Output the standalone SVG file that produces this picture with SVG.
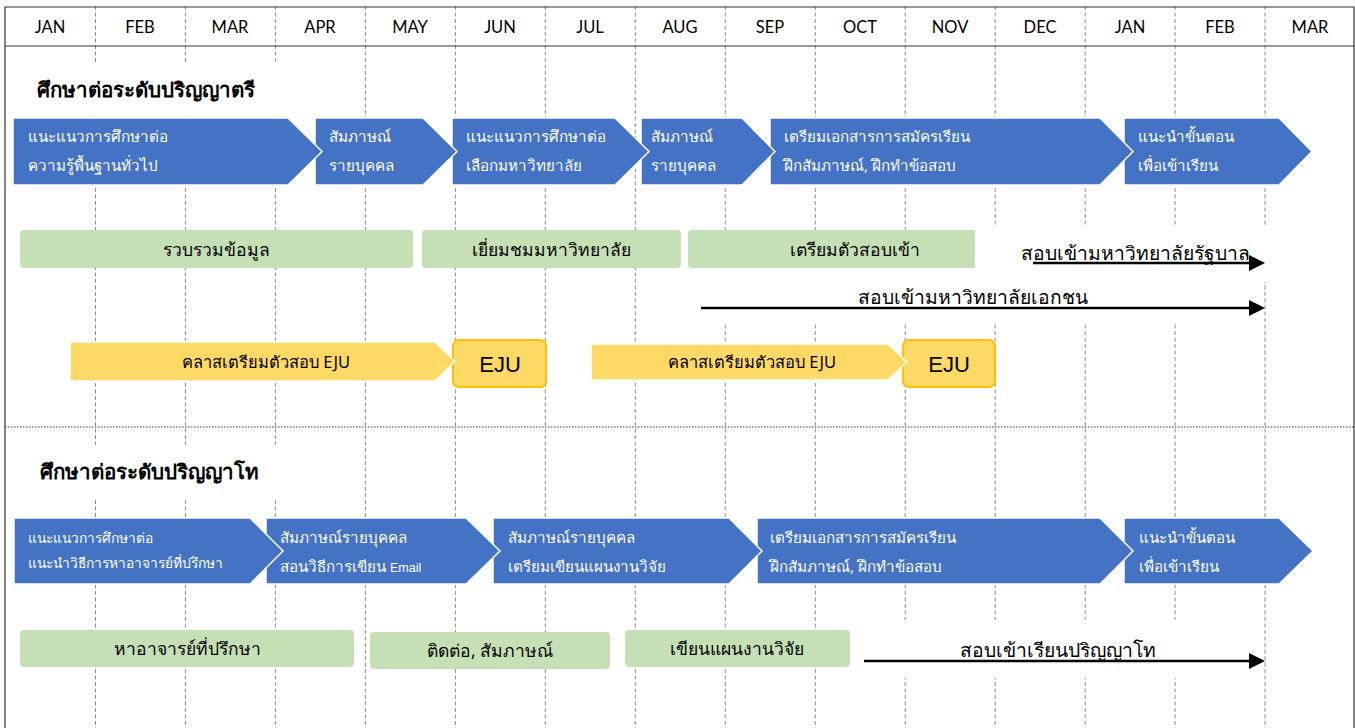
<svg xmlns="http://www.w3.org/2000/svg" width="1355" height="728" viewBox="0 0 1355 728">
<style>
.vl{stroke:#808080;stroke-width:0.9;stroke-dasharray:4 2.5;fill:none}
.mon{font-family:Lato,"Open Sans","Liberation Sans",sans-serif;font-size:16.5px;fill:#000;text-anchor:middle}
.th{font-family:"Noto Sans","DejaVu Sans","Liberation Sans",sans-serif}
.blue{fill:#4472C4;stroke:#fff;stroke-width:1.5}
.bt{font-size:15.2px;fill:#fff}
.bts{font-size:13.8px;fill:#fff}
.green{fill:#C5E0B4}
.gt{font-size:17.5px;fill:#000;text-anchor:middle}
.ylw{fill:#FFD966;stroke:#fff;stroke-width:1.5}
.eju{fill:#FFD966;stroke:#FFC000;stroke-width:2}
.yt{font-size:16.5px;fill:#000;text-anchor:middle}
.ejt{font-family:"Liberation Sans",Arial,sans-serif;font-size:22px;fill:#000;text-anchor:middle}
.wb{fill:#fff}
.title{font-size:20.5px;font-weight:bold;fill:#000}
.lt{font-size:19.3px;fill:#000;text-anchor:middle}
.con{stroke:#000;stroke-width:2.5;fill:none}
</style>
<rect width="1355" height="728" fill="#fff"/>
<g id="gridlines">
<line class="vl" x1="95.5" y1="6" x2="95.5" y2="728"/>
<line class="vl" x1="185.4" y1="6" x2="185.4" y2="728"/>
<line class="vl" x1="275.4" y1="6" x2="275.4" y2="728"/>
<line class="vl" x1="365.4" y1="6" x2="365.4" y2="728"/>
<line class="vl" x1="455.4" y1="6" x2="455.4" y2="728"/>
<line class="vl" x1="545.3" y1="6" x2="545.3" y2="728"/>
<line class="vl" x1="635.3" y1="6" x2="635.3" y2="728"/>
<line class="vl" x1="725.3" y1="6" x2="725.3" y2="728"/>
<line class="vl" x1="815.3" y1="6" x2="815.3" y2="728"/>
<line class="vl" x1="905.2" y1="6" x2="905.2" y2="728"/>
<line class="vl" x1="995.2" y1="6" x2="995.2" y2="728"/>
<line class="vl" x1="1085.2" y1="6" x2="1085.2" y2="728"/>
<line class="vl" x1="1175.1" y1="6" x2="1175.1" y2="728"/>
<line class="vl" x1="1265.1" y1="6" x2="1265.1" y2="728"/>
</g>
<g id="header">
<text class="mon" x="50" y="33">JAN</text>
<text class="mon" x="140" y="33">FEB</text>
<text class="mon" x="230" y="33">MAR</text>
<text class="mon" x="320" y="33">APR</text>
<text class="mon" x="410" y="33">MAY</text>
<text class="mon" x="500" y="33">JUN</text>
<text class="mon" x="590" y="33">JUL</text>
<text class="mon" x="680" y="33">AUG</text>
<text class="mon" x="770" y="33">SEP</text>
<text class="mon" x="860" y="33">OCT</text>
<text class="mon" x="950" y="33">NOV</text>
<text class="mon" x="1040" y="33">DEC</text>
<text class="mon" x="1130" y="33">JAN</text>
<text class="mon" x="1220" y="33">FEB</text>
<text class="mon" x="1310" y="33">MAR</text>
<line x1="5" y1="46" x2="1354" y2="46" stroke="#333" stroke-width="1.2"/>
</g>
<g id="frame" fill="none" stroke="#333" stroke-width="1.2">
<polyline points="5,728 5,7 1354,7 1354,728"/>
<line x1="5" y1="427" x2="1354" y2="427" stroke-dasharray="1.5 1.5" stroke-width="1"/>
</g>
<g id="title-bachelor" class="th">
<rect class="wb" x="20" y="63" width="285" height="54"/>
<text class="title" x="37" y="97">ศึกษาต่อระดับปริญญาตรี</text>
</g>
<g id="title-master" class="th">
<rect class="wb" x="20" y="445" width="285" height="55"/>
<text class="title" x="40" y="479">ศึกษาต่อระดับปริญญาโท</text>
</g>
<g id="b-row1" class="th">
<g id="b6"><path class="blue" d="M1124,118H1279L1312,151.5L1279,185H1124Z"/><text class="bt" x="1138" y="142">แนะนำขั้นตอน</text><text class="bt" x="1138" y="171">เพื่อเข้าเรียน</text></g>
<g id="b5"><path class="blue" d="M770,118H1100L1133,151.5L1100,185H770Z"/><text class="bt" x="784" y="142">เตรียมเอกสารการสมัครเรียน</text><text class="bt" x="784" y="171">ฝึกสัมภาษณ์, ฝึกทำข้อสอบ</text></g>
<g id="b4"><path class="blue" d="M641,118H742L775,151.5L742,185H641Z"/><text class="bt" x="651" y="142">สัมภาษณ์</text><text class="bt" x="651" y="171">รายบุคคล</text></g>
<g id="b3"><path class="blue" d="M452,118H615L649,151.5L615,185H452Z"/><text class="bt" x="466" y="142">แนะแนวการศึกษาต่อ</text><text class="bt" x="466" y="171">เลือกมหาวิทยาลัย</text></g>
<g id="b2"><path class="blue" d="M315,118H423L457,151.5L423,185H315Z"/><text class="bt" x="329" y="142">สัมภาษณ์</text><text class="bt" x="329" y="171">รายบุคคล</text></g>
<g id="b1"><path class="blue" d="M13,118H288L322,151.5L288,185H13Z"/><text class="bt" x="28" y="142">แนะแนวการศึกษาต่อ</text><text class="bt" x="28" y="171">ความรู้พื้นฐานทั่วไป</text></g>
</g>
<g id="g-row1" class="th">
<g id="g1"><rect class="green" x="20" y="230" width="393" height="38" rx="4"/><text class="gt" x="216" y="256">รวบรวมข้อมูล</text></g>
<g id="g2"><rect class="green" x="422" y="230" width="259" height="38" rx="4"/><text class="gt" x="551" y="256">เยี่ยมชมมหาวิทยาลัย</text></g>
<g id="g3"><rect class="green" x="688" y="230" width="334" height="38" rx="4"/><text class="gt" x="855" y="256">เตรียมตัวสอบเข้า</text></g>
</g>
<g id="label-gov" class="th">
<rect class="wb" x="975" y="226" width="293" height="56"/>
<text class="lt" x="1135" y="260">สอบเข้ามหาวิทยาลัยรัฐบาล</text>
</g>
<g id="label-private" class="th">
<rect class="wb" x="695" y="268" width="560" height="54"/>
<text class="lt" x="973" y="304">สอบเข้ามหาวิทยาลัยเอกชน</text>
</g>
<g id="y-row" class="th">
<g id="eju1"><rect class="eju" x="453" y="340" width="93" height="47" rx="6"/><text class="ejt" x="500" y="372">EJU</text></g>
<g id="y1"><path class="ylw" d="M70,342H435L455,361.5L435,381H70Z"/><text class="yt" x="266" y="368">คลาสเตรียมตัวสอบ EJU</text></g>
<g id="eju2"><rect class="eju" x="903" y="340" width="92" height="47" rx="6"/><text class="ejt" x="949" y="372">EJU</text></g>
<g id="y2"><path class="ylw" d="M591,344H888L907,362L888,380H591Z"/><text class="yt" x="752" y="368">คลาสเตรียมตัวสอบ EJU</text></g>
</g>
<g id="b-row2" class="th">
<g id="m5"><path class="blue" d="M1124,518H1279L1313,551L1279,584H1124Z"/><text class="bt" x="1139" y="543">แนะนำขั้นตอน</text><text class="bt" x="1139" y="572">เพื่อเข้าเรียน</text></g>
<g id="m4"><path class="blue" d="M757,518H1100L1133,551L1100,584H757Z"/><text class="bt" x="770" y="543">เตรียมเอกสารการสมัครเรียน</text><text class="bt" x="770" y="572">ฝึกสัมภาษณ์, ฝึกทำข้อสอบ</text></g>
<g id="m3"><path class="blue" d="M493,518H729L762,551L729,584H493Z"/><text class="bt" x="508" y="543">สัมภาษณ์รายบุคคล</text><text class="bt" x="508" y="572">เตรียมเขียนแผนงานวิจัย</text></g>
<g id="m2"><path class="blue" d="M266,518H466L500,551L466,584H266Z"/><text class="bt" x="280" y="543">สัมภาษณ์รายบุคคล</text><text class="bt" x="280" y="572">สอนวิธีการเขียน <tspan font-family="Liberation Sans, Arial, sans-serif" font-size="12.5">Email</tspan></text></g>
<g id="m1"><path class="blue" d="M14,518H250L283,551L250,584H14Z"/><text class="bts" x="28" y="543">แนะแนวการศึกษาต่อ</text><text class="bts" x="28" y="568">แนะนำวิธีการหาอาจารย์ที่ปรึกษา</text></g>
</g>
<g id="g-row2" class="th">
<g id="g4"><rect class="green" x="20" y="630" width="334" height="37" rx="4"/><text class="gt" x="187" y="655">หาอาจารย์ที่ปรึกษา</text></g>
<g id="g5"><rect class="green" x="370" y="632" width="240" height="37" rx="4"/><text class="gt" x="490" y="657">ติดต่อ, สัมภาษณ์</text></g>
<g id="g6"><rect class="green" x="625" y="630" width="225" height="37" rx="4"/><text class="gt" x="737" y="655">เขียนแผนงานวิจัย</text></g>
</g>
<g id="label-master" class="th">
<rect class="wb" x="855" y="620" width="395" height="58"/>
<text class="lt" x="1058" y="657">สอบเข้าเรียนปริญญาโท</text>
</g>
<g id="connectors">
<line class="con" x1="1033" y1="263" x2="1251" y2="263"/>
<polygon points="1249,255 1265,263 1249,271" fill="#000"/>
<line class="con" x1="701" y1="308" x2="1251" y2="308"/>
<polygon points="1249,300 1265,308 1249,316" fill="#000"/>
<line class="con" x1="864" y1="661" x2="1251" y2="661"/>
<polygon points="1249,653 1265,661 1249,669" fill="#000"/>
</g>
</svg>
